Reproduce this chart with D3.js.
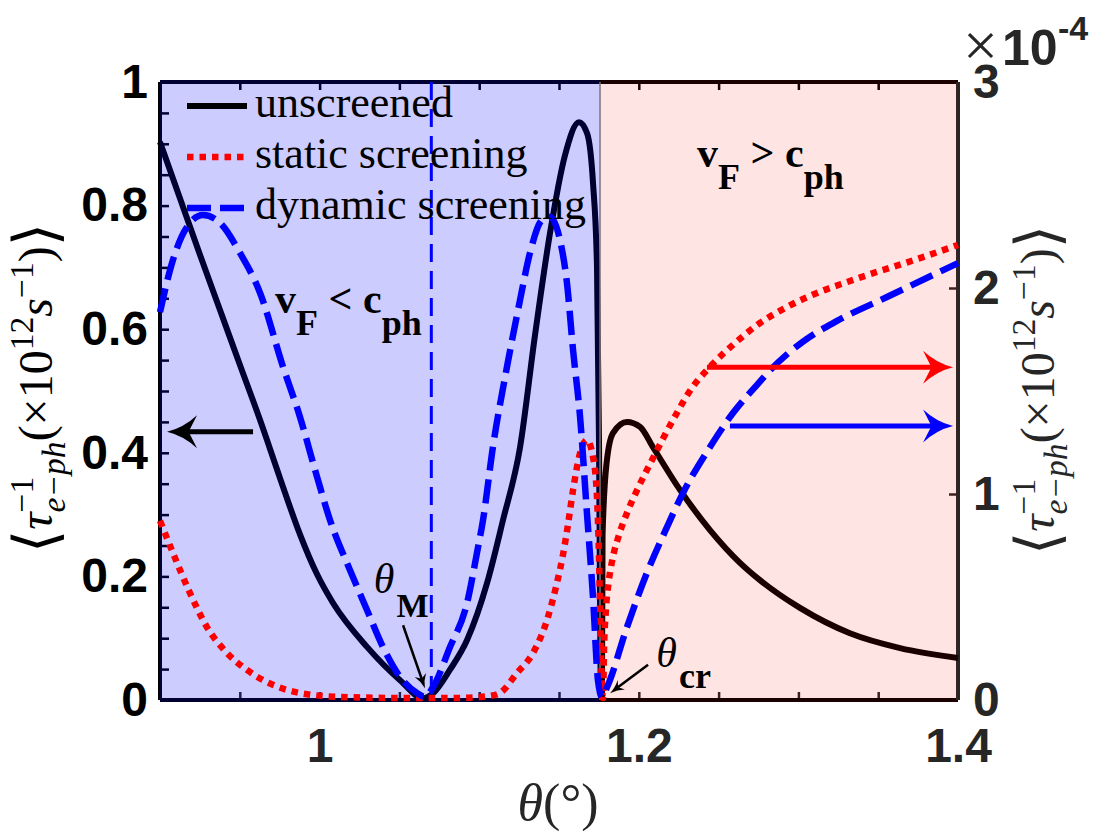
<!DOCTYPE html>
<html>
<head>
<meta charset="utf-8">
<title>Scattering rate vs twist angle</title>
<script src="https://d3js.org/d3.v7.min.js"></script>
<style>
    body { margin: 0; background: #fff; }
    svg { display: block; }
    .ticklab { font-family: "Liberation Sans", Arial, sans-serif; font-weight: bold; font-size: 48px; }
    .serif { font-family: "Liberation Serif", "DejaVu Serif", serif; }
</style>
</head>
<body>
<svg width="1120" height="840"></svg>
<script>
// ---- data ----
// unscreened, left axis
const thetaUn = [0.9000,0.9125,0.9251,0.9376,0.9501,0.9627,0.9752,0.9877,0.9981,1.0084,1.0297,1.0504,1.0648,1.0711,1.0817,1.0924,1.1049,1.1149,1.1256,1.1350,1.1444,1.1538,1.1625,1.1676,1.1713,1.1738,1.1751,1.1757,1.1763,1.1769,1.1773,1.1798,1.1838,1.1926,1.2008,1.2089,1.2258,1.2446,1.2634,1.2759,1.3010,1.3323,1.3637,1.4000];
const unscreened = [0.903,0.812,0.720,0.631,0.542,0.453,0.359,0.268,0.205,0.157,0.086,0.032,0.003,0.011,0.049,0.097,0.189,0.291,0.409,0.591,0.756,0.882,0.935,0.917,0.837,0.701,0.409,0.162,0.005,0.005,0.267,0.383,0.432,0.450,0.442,0.409,0.340,0.275,0.222,0.194,0.149,0.108,0.084,0.068];

// static screening, right axis (x1e-4)
const thetaSt = [0.9000,0.9081,0.9188,0.9294,0.9420,0.9545,0.9670,0.9796,0.9877,1.0128,1.0504,1.0880,1.1068,1.1130,1.1237,1.1337,1.1425,1.1487,1.1525,1.1556,1.1588,1.1632,1.1675,1.1713,1.1738,1.1751,1.1760,1.1769,1.1776,1.1782,1.1794,1.1813,1.1838,1.1876,1.1926,1.1989,1.2083,1.2214,1.2333,1.2446,1.2603,1.2759,1.2929,1.3117,1.3304,1.3492,1.3687,1.3875,1.4000];
const staticScr = [0.870,0.714,0.519,0.354,0.228,0.146,0.087,0.049,0.034,0.015,0.010,0.010,0.020,0.034,0.131,0.228,0.388,0.568,0.705,0.850,1.019,1.199,1.262,1.180,0.985,0.680,0.340,0.073,0.010,0.243,0.437,0.583,0.694,0.801,0.908,1.019,1.165,1.359,1.515,1.617,1.733,1.830,1.908,1.976,2.029,2.078,2.126,2.175,2.209];

// dynamic screening, right axis (x1e-4)
const thetaDy = [0.9000,0.9081,0.9169,0.9269,0.9376,0.9501,0.9627,0.9771,0.9877,0.9984,1.0065,1.0190,1.0297,1.0397,1.0504,1.0610,1.0660,1.0711,1.0817,1.0924,1.0986,1.1024,1.1086,1.1174,1.1256,1.1318,1.1393,1.1444,1.1506,1.1550,1.1588,1.1632,1.1675,1.1713,1.1744,1.1769,1.1801,1.1926,1.2051,1.2177,1.2277,1.2446,1.2590,1.2741,1.2822,1.3029,1.3242,1.3555,1.3869,1.4000];
const dynamicScr = [1.883,2.136,2.296,2.354,2.316,2.170,1.976,1.617,1.374,1.083,0.874,0.631,0.437,0.257,0.112,0.034,0.015,0.063,0.257,0.471,0.714,0.874,1.228,1.617,1.942,2.170,2.330,2.345,2.233,2.024,1.699,1.374,0.908,0.500,0.097,0.015,0.063,0.354,0.617,0.840,1.005,1.228,1.393,1.530,1.600,1.740,1.840,1.956,2.073,2.121];

const thetaM = 1.07;        // vertical dashed line
const thetaCr = 1.1757;     // boundary of the two regions

const xTickLabels = [1, 1.2, 1.4];
const xMinorTicks = d3.range(18, 29).map(i => +(i * 0.05).toFixed(2));
const yLeftLabels = [0, 0.2, 0.4, 0.6, 0.8, 1];
const yLeftTicks = d3.range(0, 21).map(i => +(i * 0.05).toFixed(2));
const yRightTicks = [0, 1, 2, 3];

const legendNames = ["unscreened", "static screening", "dynamic screening"];

// ---- scales ----
const svg = d3.select("svg");
const P = {left: 160, right: 958, top: 82, bottom: 700};
const x = d3.scaleLinear().domain([0.9, 1.4]).range([P.left, P.right]);
const yL = d3.scaleLinear().domain([0, 1]).range([P.bottom, P.top]);
const yR = d3.scaleLinear().domain([0, 3]).range([P.bottom, P.top]);

const gAxes = svg.append("g");
const gUnder = svg.append("g");
const gOver = svg.append("g");
const gLines = svg.append("g");
const gTop = svg.append("g");

// ---- ticks (inside) ----
function styleAxis(g, col) {
    g.select(".domain").remove();
    g.attr("color", col);
    g.selectAll("line").attr("stroke-width", 2.5);
    g.selectAll("text").attr("class", "ticklab");
}
gAxes.append("g").attr("transform", `translate(0,${P.bottom})`)
    .call(d3.axisBottom(x).tickValues(xMinorTicks).tickSize(-8).tickPadding(28)
        .tickFormat(d => xTickLabels.some(v => Math.abs(v - d) < 1e-9) ? d3.format("")(d) : ""))
    .call(g => styleAxis(g, "#262626"));
gAxes.append("g").attr("transform", `translate(0,${P.top})`)
    .call(d3.axisTop(x).tickValues(xMinorTicks).tickSize(-8).tickFormat(""))
    .call(g => styleAxis(g, "#000"));
gAxes.append("g").attr("transform", `translate(${P.left},0)`)
    .call(d3.axisLeft(yL).tickValues(yLeftTicks).tickSize(-9).tickPadding(12)
        .tickFormat(d => yLeftLabels.some(v => Math.abs(v - d) < 1e-9) ? d3.format("")(d) : ""))
    .call(g => styleAxis(g, "#000"));
gAxes.append("g").attr("transform", `translate(${P.right},0)`)
    .call(d3.axisRight(yR).tickValues(yRightTicks).tickSize(-9).tickPadding(15).tickFormat(d3.format("d")))
    .call(g => styleAxis(g, "#262626"));

// box
gAxes.append("line").attr("x1", P.left).attr("x2", P.right).attr("y1", P.bottom).attr("y2", P.bottom).attr("stroke", "#000").attr("stroke-width", 4);
gAxes.append("line").attr("x1", P.left).attr("x2", P.right).attr("y1", P.top).attr("y2", P.top).attr("stroke", "#000").attr("stroke-width", 4);
gAxes.append("line").attr("x1", P.left).attr("x2", P.left).attr("y1", P.top).attr("y2", P.bottom).attr("stroke", "#000").attr("stroke-width", 4);
gAxes.append("line").attr("x1", P.right).attr("x2", P.right).attr("y1", P.top).attr("y2", P.bottom).attr("stroke", "#262626").attr("stroke-width", 4);

// ---- curves ----
const lineL = d3.line().x(d => x(d[0])).y(d => yL(d[1])).curve(d3.curveMonotoneX);
const lineR = d3.line().x(d => x(d[0])).y(d => yR(d[1])).curve(d3.curveMonotoneX);

// unscreened sits under the tinted patches
gUnder.append("path").datum(d3.zip(thetaUn, unscreened)).attr("d", lineL)
    .attr("fill", "none").attr("stroke", "#000").attr("stroke-width", 6);

// ---- translucent region patches ----
gOver.append("rect").attr("x", x(0.9)).attr("y", P.top - 2).attr("width", x(thetaCr) - x(0.9)).attr("height", P.bottom - P.top + 4)
    .attr("fill", "#0000ff").attr("fill-opacity", 0.2);
gOver.append("rect").attr("x", x(thetaCr)).attr("y", P.top - 2).attr("width", x(1.4) - x(thetaCr)).attr("height", P.bottom - P.top + 4)
    .attr("fill", "#ff0000").attr("fill-opacity", 0.105);
gOver.append("line").attr("x1", x(thetaCr)).attr("x2", x(thetaCr)).attr("y1", P.top).attr("y2", P.bottom)
    .attr("stroke", "#777").attr("stroke-width", 1.5);

gLines.append("line")
    .attr("x1", x(thetaM)).attr("x2", x(thetaM)).attr("y1", P.top).attr("y2", P.bottom)
    .attr("stroke", "#0000ff").attr("stroke-width", 3).attr("stroke-dasharray", "18,9");
gLines.append("path").datum(d3.zip(thetaSt, staticScr)).attr("d", lineR)
    .attr("fill", "none").attr("stroke", "#ff0000").attr("stroke-width", 6.5).attr("stroke-dasharray", "6.5,6");
gLines.append("path").datum(d3.zip(thetaDy, dynamicScr)).attr("d", lineR)
    .attr("fill", "none").attr("stroke", "#0000ff").attr("stroke-width", 6.5).attr("stroke-dasharray", "24,9");

// ---- arrows ----
function arrow(g, x1, y1, x2, y2, col, w, L, W) {
    const ang = Math.atan2(y2 - y1, x2 - x1);
    const len = Math.hypot(x2 - x1, y2 - y1);
    const a = g.append("g").attr("transform", `translate(${x1},${y1}) rotate(${ang * 180 / Math.PI})`);
    a.append("line").attr("x1", 0).attr("y1", 0).attr("x2", len - L * 0.7).attr("y2", 0)
        .attr("stroke", col).attr("stroke-width", w);
    a.append("path")
        .attr("d", `M${len},0 Q${len - L * 0.55},${-W * 0.12} ${len - L},${-W / 2} L${len - L * 0.72},0 L${len - L},${W / 2} Q${len - L * 0.55},${W * 0.12} ${len},0Z`)
        .attr("fill", col);
}
arrow(gTop, x(0.9583), yL(0.434), x(0.9044), yL(0.434), "#000", 5, 30, 33);
arrow(gTop, x(1.2427), yR(1.615), x(1.3969), yR(1.615), "#ff0000", 5, 30, 33);
arrow(gTop, x(1.2571), yR(1.330), x(1.3969), yR(1.330), "#0000ff", 5, 30, 33);
arrow(gTop, x(1.0523), yL(0.121), x(1.0660), yL(0.019), "#000", 2.5, 14, 12);
arrow(gTop, x(1.2058), yL(0.057), x(1.1820), yL(0.011), "#000", 2.5, 14, 12);

// ---- legend ----
const legStyles = [
    {c: "#000", w: 6, d: null},
    {c: "#ff0000", w: 6.5, d: "6.5,6"},
    {c: "#0000ff", w: 6.5, d: "24,9"}
];
legendNames.forEach((n, i) => {
    const yy = 106 + i * 51;
    gTop.append("line").attr("x1", 187).attr("x2", 247).attr("y1", yy).attr("y2", yy)
        .attr("stroke", legStyles[i].c).attr("stroke-width", legStyles[i].w)
        .attr("stroke-dasharray", legStyles[i].d);
    gTop.append("text").attr("class", "serif").attr("x", 255).attr("y", yy + 11)
        .style("font-size", "44px").attr("fill", "#000").text(n);
});

// ---- region & angle annotations ----
function subLabel(px, py, main1, sub1, mid, main2, sub2) {
    const t = gTop.append("text").attr("class", "serif").attr("x", px).attr("y", py)
        .style("font-weight", "bold").style("font-size", "42px");
    t.append("tspan").text(main1);
    t.append("tspan").attr("dy", 22).style("font-size", "36px").text(sub1);
    t.append("tspan").attr("dy", -22).text(mid + main2);
    t.append("tspan").attr("dy", 22).style("font-size", "36px").text(sub2);
}
subLabel(x(0.9721), yL(0.626), "v", "F", " < ", "c", "ph");
subLabel(x(1.2365), yL(0.862), "v", "F", " > ", "c", "ph");

function thetaLabel(px, py, sub, subSize, dy) {
    const t = gTop.append("text").attr("class", "serif").attr("x", px).attr("y", py);
    t.append("tspan").style("font-style", "italic").style("font-size", "42px").text("θ");
    t.append("tspan").attr("dx", 2).attr("dy", dy).style("font-weight", "bold").style("font-size", subSize + "px").text(sub);
}
thetaLabel(x(1.0340), yL(0.173), "M", 34, 24);
thetaLabel(x(1.2110), yL(0.053), "cr", 36, 21);

// ---- math-ish axis labels ----
function mathText(g, pieces, base) {
    const inner = g.append("g");
    let xpos = 0, stack = null;
    pieces.forEach(p => {
        const t = inner.append("text").attr("class", "serif")
            .attr("x", xpos).attr("y", (p.dy || 0) * base)
            .style("font-size", (p.s || 1) * base + "px")
            .style("font-style", p.it ? "italic" : "normal")
            .text(p.t);
        const w = t.node().getComputedTextLength();
        if (p.stack) { stack = {x: xpos, w: w}; }
        else if (stack) { xpos = stack.x + Math.max(stack.w, w); stack = null; }
        else xpos += w;
    });
    inner.attr("transform", `translate(${-xpos / 2},0)`);
}
const yLabPieces = [
    {t: "⟨", s: 1.25, dy: 0.08}, {t: "τ", it: true},
    {t: "−1", s: 0.7, dy: -0.4, stack: true},
    {t: "e−ph", s: 0.7, dy: 0.28, it: true},
    {t: "("}, {t: "×"}, {t: "10"},
    {t: "12", s: 0.7, dy: -0.4},
    {t: "s", it: true},
    {t: "−1", s: 0.7, dy: -0.4},
    {t: ")"}, {t: "⟩", s: 1.25, dy: 0.08}
];
mathText(svg.append("g").attr("fill", "#000").attr("transform", "translate(52,388) rotate(-90)"), yLabPieces, 48);
mathText(svg.append("g").attr("fill", "#262626").attr("transform", "translate(1054,390) rotate(-90)"), yLabPieces, 48);
mathText(svg.append("g").attr("fill", "#262626").attr("transform", "translate(558,820)"),
    [{t: "θ", it: true}, {t: "("}, {t: "°"}, {t: ")"}], 52);

// exponent of right axis
svg.append("text").attr("class", "serif").attr("x", 963).attr("y", 66)
    .style("font-size", "62px").attr("fill", "#262626").text("×");
svg.append("text").attr("class", "ticklab").attr("x", 1002).attr("y", 65).style("font-size", "50px").attr("fill", "#262626").text("10");
svg.append("text").attr("class", "ticklab").attr("x", 1058).attr("y", 40).style("font-size", "34px").attr("fill", "#262626").text("-4");
</script>
</body>
</html>
